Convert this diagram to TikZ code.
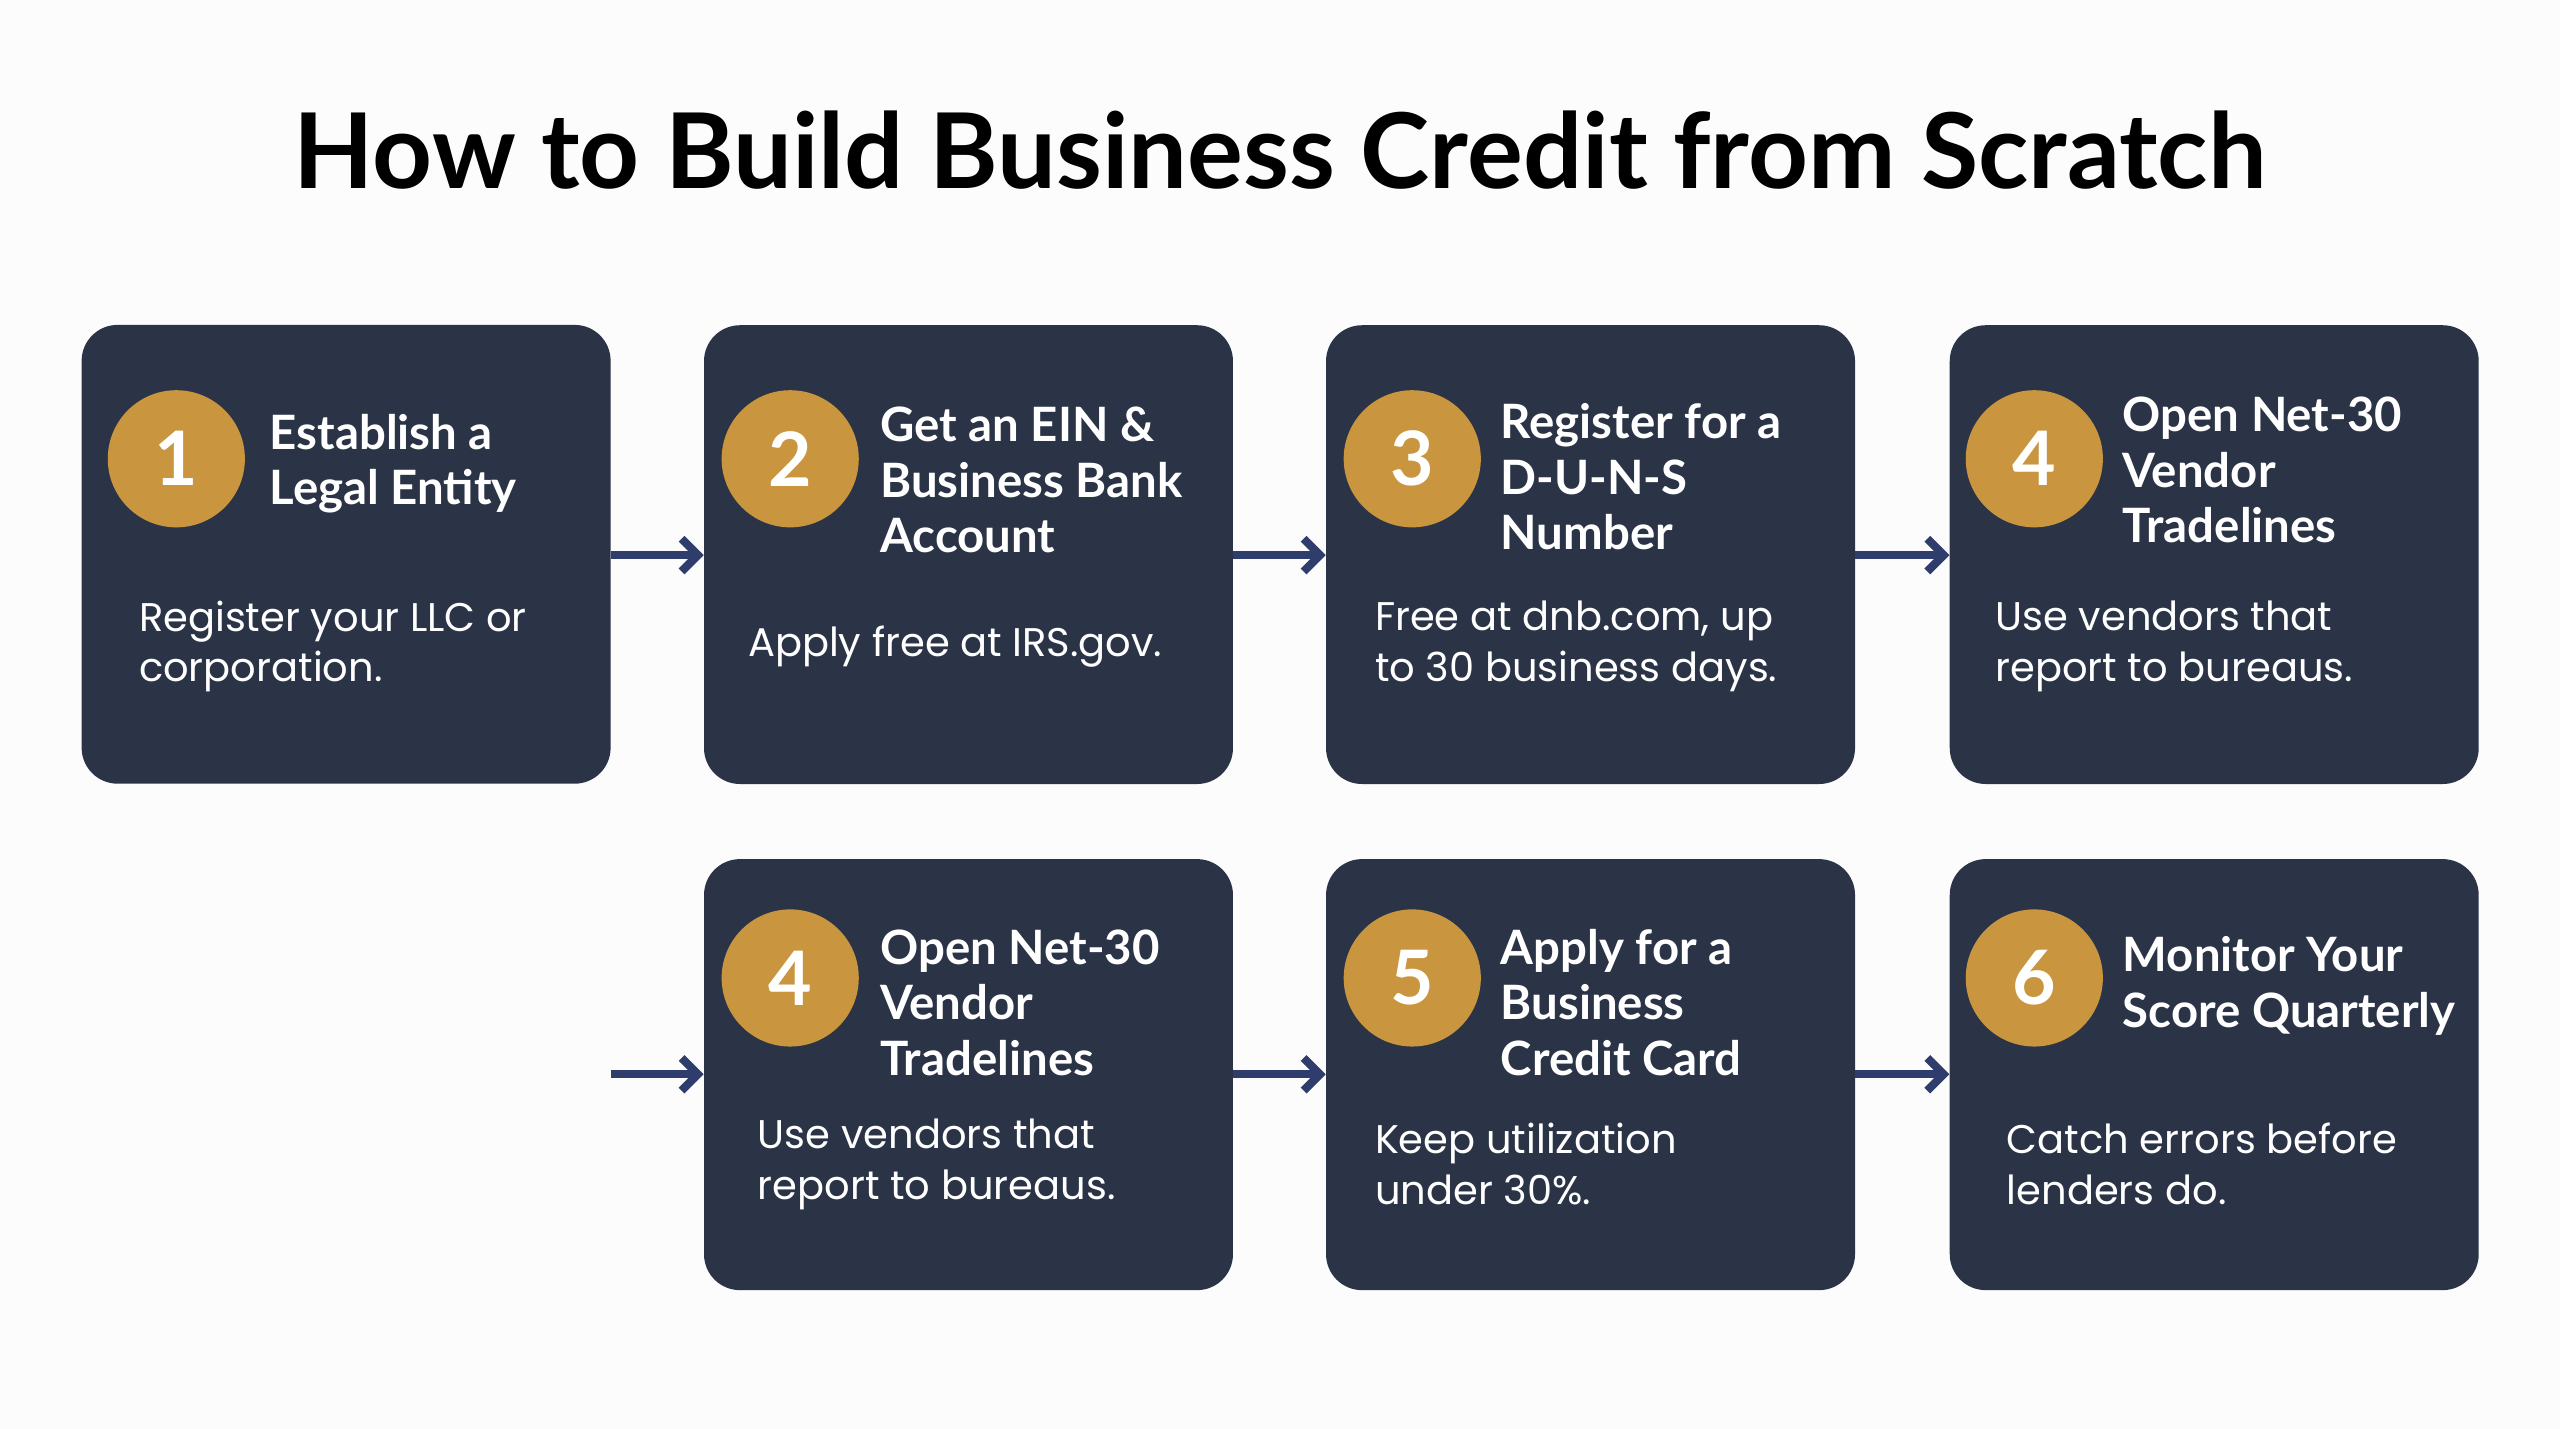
\documentclass[tikz,border=0pt]{standalone}
\usepackage{fontspec}
\setmainfont{Lato}
\newfontfamily\bodyfont{Poppins}
\usetikzlibrary{arrows.meta}
\definecolor{navy}{HTML}{2B3447}
\definecolor{gold}{HTML}{C9963F}
\definecolor{arr}{HTML}{2E3D6B}
\begin{document}
\begin{tikzpicture}[x=1pt,y=-1pt,
 box/.style={fill=navy,rounded corners=22pt,draw=none},
 num/.style={circle,fill=gold,minimum size=84pt,inner sep=0,text=white,font=\fontsize{46}{46}\selectfont\bfseries},
 head/.style={anchor=west,align=left,text=white,inner sep=0,font=\fontsize{29}{34}\selectfont\bfseries},
 body/.style={anchor=west,align=left,text=white,inner sep=0,font=\bodyfont\fontsize{24.5}{31}\selectfont},
 ar/.style={draw=arr,line width=5pt,-{Straight Barb[length=10pt,width=20pt,line width=5pt]}}]
\fill[white!98!gray] (0,0) rectangle (1568,875);
\node[font=\fontsize{64}{64}\selectfont\bfseries\fontspec{Lato Black}] (title) at (784,92) {How to Build Business Credit from Scratch};
% row 1
\draw[box] (50,199) rectangle (374,480); \coordinate (b1) at (50,199);
\path (50,199) rectangle (374,480) node[pos=0,anchor=north west,minimum width=324,minimum height=281,inner sep=0] (B1) {};
\path (431,199) node[anchor=north west,minimum width=324,minimum height=281,inner sep=0,box] (B2) {};
\path (812,199) node[anchor=north west,minimum width=324,minimum height=281,inner sep=0,box] (B3) {};
\path (1194,199) node[anchor=north west,minimum width=324,minimum height=281,inner sep=0,box] (B4) {};
\path (431,526) node[anchor=north west,minimum width=324,minimum height=264,inner sep=0,box] (C2) {};
\path (812,526) node[anchor=north west,minimum width=324,minimum height=264,inner sep=0,box] (C3) {};
\path (1194,526) node[anchor=north west,minimum width=324,minimum height=264,inner sep=0,box] (C4) {};
\node[num] (n1) at (108,281) {1};
\node[num] (n2) at (484,281) {2};
\node[num] (n3) at (865,281) {3};
\node[num] (n4) at (1246,281) {4};
\node[num] (m4) at (484,599) {4};
\node[num] (m5) at (865,599) {5};
\node[num] (m6) at (1246,599) {6};
\node[head] (h1) at (165,284) {Establish a\\Legal Entity};
\node[head] (h2) at (539,294) {Get an EIN \&\\Business Bank\\Account};
\node[head] (h3) at (919,292) {Register for a\\D-U-N-S\\Number};
\node[head] (h4) at (1300,288) {Open Net-30\\Vendor\\Tradelines};
\node[head] (k4) at (539,614) {Open Net-30\\Vendor\\Tradelines};
\node[head] (k5) at (919,614) {Apply for a\\Business\\Credit Card};
\node[head] (k6) at (1300,604) {Monitor Your\\Score Quarterly};
\node[body] (t1) at (85,396) {Register your LLC or\\corporation.};
\node[body] (t2) at (458,396) {Apply free at IRS.gov.};
\node[body] (t3) at (842,396) {Free at dnb.com, up\\to 30 business days.};
\node[body] (t4) at (1222,396) {Use vendors that\\report to bureaus.};
\node[body] (u4) at (464,713) {Use vendors that\\report to bureaus.};
\node[body] (u5) at (842,713) {Keep utilization\\under 30\%.};
\node[body] (u6) at (1229,713) {Catch errors before\\lenders do.};
\draw[ar] (374,340) -- (B2.west|-0,340);
\draw[ar] (B2.east|-0,340) -- (B3.west|-0,340);
\draw[ar] (B3.east|-0,340) -- (B4.west|-0,340);
\coordinate (s) at (374,658);
\draw[ar] (s) -- (C2.west|-0,658);
\draw[ar] (C2.east|-0,658) -- (C3.west|-0,658);
\draw[ar] (C3.east|-0,658) -- (C4.west|-0,658);
\end{tikzpicture}
\end{document}
